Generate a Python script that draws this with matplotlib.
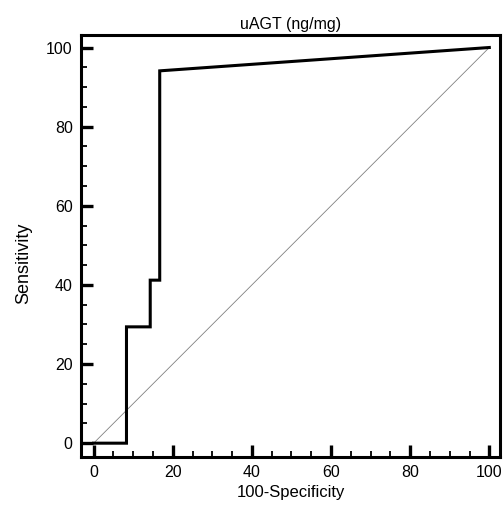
import numpy as np
import matplotlib.pyplot as plt
from matplotlib.ticker import MultipleLocator

plt.rcParams['font.family'] = ['Liberation Sans', 'DejaVu Sans']

# Pontos da curva ROC
especificidade_100 = [0, 8.3, 8.3, 14.3, 14.3, 16.7, 16.7, 100]
sensibilidade = [0, 0, 29.4, 29.4, 41.2, 41.2, 94.1, 100]
diagonal = [0, 100]

fig = plt.figure(figsize=(5.03, 5.05), dpi=100)
ax = fig.add_axes([0.161, 0.095, 0.833, 0.836])

ax.plot(diagonal, diagonal, color='grey', linewidth=0.6)
ax.plot(especificidade_100, sensibilidade, color='black', linewidth=2.2, solid_joinstyle='miter')

ax.set_xlim(-3.2, 102.7)
ax.set_ylim(-3.5, 103.2)
ax.xaxis.set_major_locator(MultipleLocator(20))
ax.yaxis.set_major_locator(MultipleLocator(20))
ax.xaxis.set_minor_locator(MultipleLocator(5))
ax.yaxis.set_minor_locator(MultipleLocator(5))
ax.tick_params(which='major', direction='in', length=8.5, width=2.4, labelsize=11.5, pad=6)
ax.tick_params(which='minor', direction='in', length=4.5, width=1.3)

for s in ax.spines.values():
    s.set_linewidth(2.2)

ax.set_xlabel("100-Specificity", fontsize=12, labelpad=3)
ax.set_ylabel("Sensitivity", fontsize=13, labelpad=10)
ax.yaxis.label.set_y(0.46)
ax.set_title("uAGT (ng/mg)", fontsize=11.5, pad=4)

plt.savefig("out.png", dpi=100)
